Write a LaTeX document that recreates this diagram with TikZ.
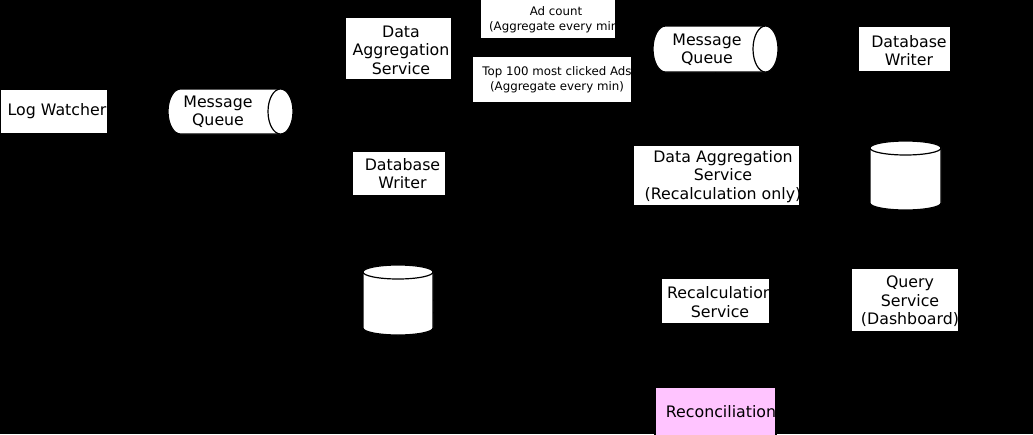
\documentclass[tikz,border=0pt]{standalone}
\usepackage{fontspec}
\setmainfont{DejaVu Sans}
\usetikzlibrary{arrows.meta}
\definecolor{reconpink}{HTML}{FFC4FF}
\begin{document}
\begin{tikzpicture}[x=1pt,y=-1pt,
  box/.style={rectangle, draw=black, fill=white, line width=1.2pt, inner sep=0pt},
  holder/.style={rectangle, draw=none, inner sep=0pt},
  cyl/.style={draw=black, fill=white, line width=1.2pt},
  txt/.style={text=black, align=center, inner sep=0pt, font=\fontsize{15.8}{18.4}\selectfont},
  stxt/.style={text=black, align=center, inner sep=0pt, font=\fontsize{11.8}{15}\selectfont},
  conn/.style={draw=black, line width=1.2pt, -{Stealth[length=7pt,width=6pt]}}]
\fill[black] (0,0) rectangle (1033,434);
\useasboundingbox (0,0) rectangle (1033,434);

% ---------- boxes ----------
\node[box, minimum width=108pt, minimum height=45pt] (lw) at (54,111.5) {};
\node[txt] (lwt) at (57,111.5) {Log Watcher};

\node[box, minimum width=107pt, minimum height=63pt] (das) at (398.5,48.5) {};
\node[txt] (dast) at (401,50) {Data\\Aggregation\\Service};

\node[box, minimum width=136pt, minimum height=40pt] (adc) at (548,19) {};
\node[stxt] (adct) at (556,19.5) {Ad count\\(Aggregate every min)};

\node[box, minimum width=160pt, minimum height=47pt] (top) at (552,79.5) {};
\node[stxt] (topt) at (557,80) {Top 100 most clicked Ads\\(Aggregate every min)};

\node[box, minimum width=93pt, minimum height=46pt] (dbw2) at (904.5,49) {};
\node[txt] (dbw2t) at (909,50.5) {Database\\Writer};

\node[box, minimum width=94pt, minimum height=45pt] (dbw1) at (399,173.5) {};
\node[txt] (dbw1t) at (402.5,173.5) {Database\\Writer};

\node[box, minimum width=167pt, minimum height=61pt] (dasr) at (716.5,175.5) {};
\node[txt] (dasrt) at (723,176.5) {Data Aggregation\\Service\\(Recalculation only)};

\node[box, minimum width=109pt, minimum height=46pt] (recalc) at (715.5,301) {};
\node[txt] (recalct) at (720,302) {Recalculation\\Service};

\node[box, minimum width=108pt, minimum height=64pt] (query) at (905,300) {};
\node[txt] (queryt) at (910,301.5) {Query\\Service\\(Dashboard)};

\node[box, fill=reconpink, minimum width=121pt, minimum height=53pt] (recon) at (715.5,413.5) {};
\node[txt] (recont) at (721,411.5) {Reconciliation};

% ---------- horizontal cylinders (message queues) ----------
\node[holder, minimum width=125pt, minimum height=45pt] (mq1) at (230.5,111.5) {};
\draw[cyl] (180.5,134) arc[start angle=90,end angle=270,x radius=12.5,y radius=22.5]
  -- (280.5,89) arc[start angle=270,end angle=450,x radius=12.5,y radius=22.5] -- cycle;
\draw[cyl] (280.5,111.5) ellipse[x radius=12.5,y radius=22.5];
\node[txt] (mq1t) at (218,111.7) {Message\\Queue};

\node[holder, minimum width=125pt, minimum height=46pt] (mq2) at (715.5,49) {};
\draw[cyl] (665.5,72) arc[start angle=90,end angle=270,x radius=12.5,y radius=23]
  -- (765.5,26) arc[start angle=270,end angle=450,x radius=12.5,y radius=23] -- cycle;
\draw[cyl] (765.5,49) ellipse[x radius=12.5,y radius=23];
\node[txt] (mq2t) at (707,50) {Message\\Queue};

% ---------- vertical cylinders (databases) ----------
\node[holder, minimum width=70pt, minimum height=70pt] (db1) at (398,300) {};
\draw[cyl] (363,272) -- (363,328) arc[start angle=180,end angle=0,x radius=35,y radius=7]
  -- (433,272) arc[start angle=0,end angle=-180,x radius=35,y radius=7] -- cycle;
\draw[cyl] (398,272) ellipse[x radius=35,y radius=7];

\node[holder, minimum width=71pt, minimum height=69pt] (db2) at (905.5,175.5) {};
\draw[cyl] (870,148) -- (870,203) arc[start angle=180,end angle=0,x radius=35.5,y radius=7]
  -- (941,148) arc[start angle=0,end angle=-180,x radius=35.5,y radius=7] -- cycle;
\draw[cyl] (905.5,148) ellipse[x radius=35.5,y radius=7];

% ---------- connectors ----------
\draw[conn] (lw) -- (mq1);
\draw[conn] (mq1) -- (das);
\draw[conn] (mq1) -- (dbw1);
\draw[conn] (das.east |- adc) -- (adc);
\draw[conn] (das.east |- top) -- (top);
\draw[conn] (adc) -- (mq2);
\draw[conn] (top) -- (mq2);
\draw[conn] (mq2) -- (dbw2);
\draw[conn] (dbw2) -- (db2);
\draw[conn] (db2) -- (query);
\draw[conn] (dbw1) -- (db1);
\draw[conn] (db1) -- (recalc);
\draw[conn] (recalc) -- (dasr);
\draw[conn] (dasr) -- (mq2);
\draw[conn] (db2) -- (recon);
\draw[conn] (db1) -- (recon);
\end{tikzpicture}
\end{document}
